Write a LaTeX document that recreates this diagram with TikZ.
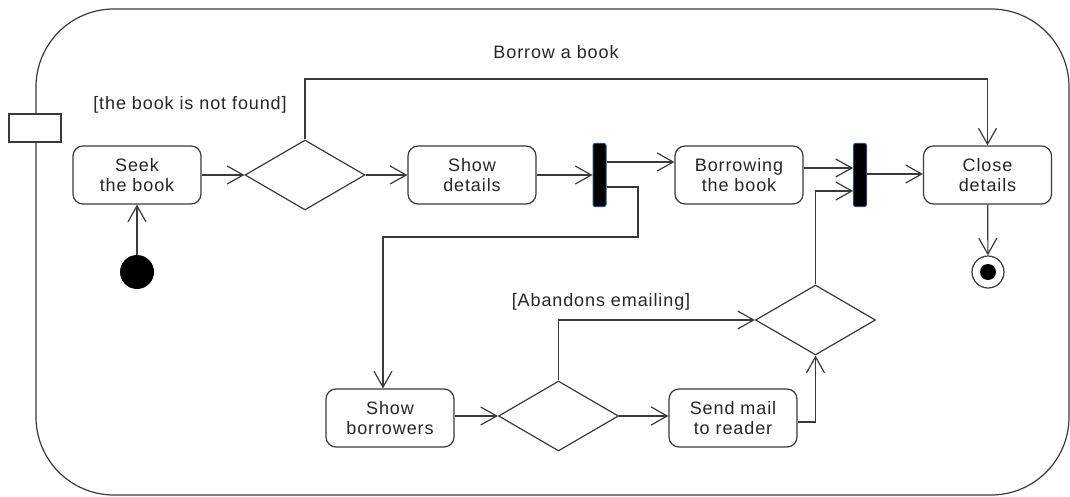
\documentclass[tikz,border=0pt]{standalone}
\usepackage{fontspec}
\setmainfont{Liberation Sans}[LetterSpace=5]
\usetikzlibrary{arrows.meta,shapes.geometric}
\definecolor{linec}{HTML}{3A3A3A}
\definecolor{barblue}{HTML}{2A4A80}
\begin{document}
\begin{tikzpicture}[x=1pt,y=-1pt,
  every node/.style={font=\fontsize{18}{20}\selectfont, text=black!85},
  act/.style={draw=linec, rounded corners=10pt, minimum width=128pt, minimum height=58pt, inner sep=0pt, align=center, line width=1.2pt, fill=white},
  dec/.style={diamond, draw=linec, minimum width=120pt, minimum height=70pt, inner sep=0pt, line width=1.2pt},
  forkbar/.style={fill=black, draw=barblue, minimum width=13pt, minimum height=63pt, inner sep=0pt, rounded corners=2pt, line width=1pt},
  flow/.style={draw=linec, line width=1.2pt, -{Straight Barb[length=16pt,width=18pt,line width=1.2pt]}},
  frame/.style={draw=linec, line width=1.2pt}]
\useasboundingbox (0,0) rectangle (1070,497);
% outer activity frame
\draw[frame, rounded corners=78pt] (36,9) rectangle (1069,495);
\draw[frame, fill=white] (9,114) rectangle (61,142);
\node (title) at (556,52) {Borrow a book};
% nodes
\node[act] (seek) at (137,175) {Seek\\the book};
\node[dec] (d1) at (305,175) {};
\node[act] (show) at (472,175) {Show\\details};
\node[forkbar] (bar1) at (599.5,175) {};
\node[act] (borrow) at (739,175) {Borrowing\\the book};
\node[forkbar] (bar2) at (860,175) {};
\node[act] (close) at (987.5,175) {Close\\details};
\node[circle, fill=black, minimum size=34pt, inner sep=0pt] (init) at (137,272) {};
\node[circle, draw=linec, line width=1.2pt, minimum size=32pt, inner sep=0pt] (final) at (988,272) {};
\fill[black] (final.center) circle (8pt);
\node[act] (sb) at (390,418) {Show\\borrowers};
\node[dec] (d2) at (558.5,416) {};
\node[act] (send) at (733,418) {Send mail\\to reader};
\node[dec] (d3) at (815.5,320) {};
% guards
\node (g1) at (190,105) {[the book is not found]};
\node (g2) at (601,302) {[Abandons emailing]};
% helper coordinates
\coordinate (y79) at (0,79);
\coordinate (y162) at (0,162);
\coordinate (y168) at (0,168);
\coordinate (y174) at (0,174);
\coordinate (y191) at (0,191);
\coordinate (y422) at (0,422);
\coordinate (j1) at (638,187);
\coordinate (j2) at (638,237);
\coordinate (j3) at (383,237);
\coordinate (c1) at (d1.north |- y79);
% connectors
\draw[flow] (init) -- (seek);
\draw[flow] (seek) -- (d1);
\draw[flow] (d1.north) -- (c1) -| (close.north);
\draw[flow] (d1) -- (show);
\draw[flow] (show) -- (bar1);
\draw[flow] (bar1.east |- y162) -- (borrow.west |- y162);
\draw[flow] (bar1.east |- j1) -- (j1) -- (j2) -- (j3) -- (j3 |- sb.north);
\draw[flow] (sb.east |- d2) -- (d2.west);
\draw[flow] (d2.east) -- (send.west |- d2.east);
\draw[flow] (d2.north) |- (d3.west);
\draw[flow] (send.east |- y422) -| (d3.south);
\draw[flow] (d3.north) |- (bar2.west |- y191);
\draw[flow] (borrow.east |- y168) -- (bar2.west |- y168);
\draw[flow] (bar2.east |- y174) -- (close.west |- y174);
\draw[flow] (close) -- (final);
\end{tikzpicture}
\end{document}
